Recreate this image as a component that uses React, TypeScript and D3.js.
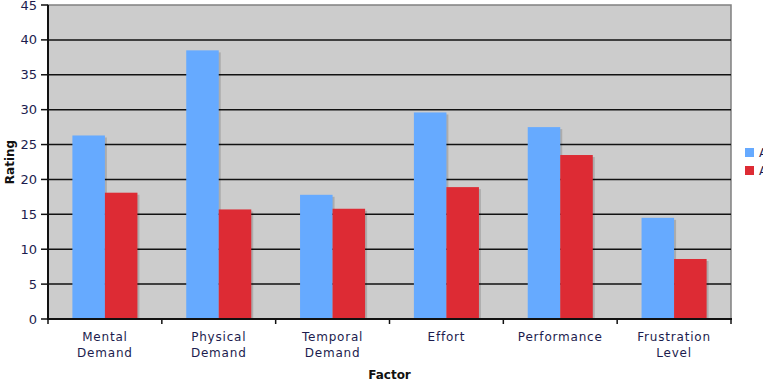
import React from "react";
import * as d3 from "d3";

const factors = [
  ["Mental", "Demand"],
  ["Physical", "Demand"],
  ["Temporal", "Demand"],
  ["Effort"],
  ["Performance"],
  ["Frustration", "Level"],
];
const seriesNames = ["A-Baseline", "A-Assisted"];
const seriesColors = ["#66aaff", "#dd2b34"];
const seriesA = [26.3, 38.5, 17.8, 29.6, 27.5, 14.5];
const seriesB = [18.1, 15.7, 15.8, 18.9, 23.5, 8.6];
const yTicks = [0, 5, 10, 15, 20, 25, 30, 35, 40, 45];

const W = 763;
const H = 381;
const margin = { top: 5, right: 32, bottom: 62, left: 48 };
const textColor = "#1c1c4e";
const font = "DejaVu Sans, Verdana, sans-serif";

const App = () => {
  const innerW = W - margin.left - margin.right;
  const innerH = H - margin.top - margin.bottom;
  const keys = factors.map((f) => f.join(" "));

  const x0 = d3.scaleBand().domain(keys).range([0, innerW]).padding(0);
  const x1 = d3
    .scaleBand()
    .domain(seriesNames)
    .range([0, x0.bandwidth()])
    .paddingInner(0)
    .paddingOuter(0.75);
  const y = d3.scaleLinear().domain([0, 45]).range([innerH, 0]);

  const data = keys.map((k, i) => ({ key: k, values: [seriesA[i], seriesB[i]] }));

  return (
    <svg
      width={W}
      height={H}
      style={{ position: "absolute", left: 0, top: 0, background: "#fff" }}
    >
      <defs>
        <filter id="soft" x="-10%" y="-10%" width="130%" height="120%">
          <feGaussianBlur stdDeviation="0.4" />
        </filter>
      </defs>
      <g transform={`translate(${margin.left},${margin.top})`}>
        <rect width={innerW} height={innerH} fill="#cccccc" stroke="#808080" strokeWidth={1.5} />
        {yTicks.map((t) => (
          <g key={t}>
            {t > 0 && t < 45 && (
              <line x1={0} x2={innerW} y1={y(t)} y2={y(t)} stroke="#111" strokeWidth={1.5} />
            )}
            <line x1={-7} x2={0} y1={y(t)} y2={y(t)} stroke="#111" strokeWidth={1.5} />
            <text
              x={-11}
              y={y(t)}
              dy="0.35em"
              textAnchor="end"
              fontFamily={font}
              fontSize={13}
              fill={textColor}
            >
              {t}
            </text>
          </g>
        ))}
        {data.map((d) => (
          <g key={d.key} transform={`translate(${x0(d.key)},0)`}>
            {d.values.map((v, j) => (
              <g key={j}>
                <rect
                  x={(x1(seriesNames[j]) ?? 0) + 2}
                  y={y(v) + 2}
                  width={x1.bandwidth()}
                  height={innerH - y(v) - 2}
                  fill="#000"
                  opacity={0.15}
                  filter="url(#soft)"
                />
                <rect
                  x={x1(seriesNames[j])}
                  y={y(v)}
                  width={x1.bandwidth()}
                  height={innerH - y(v)}
                  fill={seriesColors[j]}
                />
              </g>
            ))}
          </g>
        ))}
        <line x1={0} x2={0} y1={0} y2={innerH + 1} stroke="#111" strokeWidth={2} />
        <line x1={-1} x2={innerW + 1} y1={innerH} y2={innerH} stroke="#111" strokeWidth={2} />
        {d3.range(factors.length + 1).map((i) => (
          <line
            key={i}
            x1={i * x0.step()}
            x2={i * x0.step()}
            y1={innerH}
            y2={innerH + 5}
            stroke="#111"
            strokeWidth={1.5}
          />
        ))}
        {factors.map((f, i) => (
          <text
            key={keys[i]}
            x={(x0(keys[i]) ?? 0) + x0.bandwidth() / 2}
            y={innerH + 22}
            textAnchor="middle"
            fontFamily={font}
            fontSize={12}
            fill={textColor}
            letterSpacing={0.8}
          >
            {f.map((line, k) => (
              <tspan key={k} x={(x0(keys[i]) ?? 0) + x0.bandwidth() / 2} dy={k === 0 ? 0 : 16}>
                {line}
              </tspan>
            ))}
          </text>
        ))}
        <text
          x={innerW / 2}
          y={innerH + 60}
          textAnchor="middle"
          fontFamily={font}
          fontSize={12}
          fontWeight="bold"
          fill="#111"
        >
          Factor
        </text>
        <text
          transform={`translate(${-34},${innerH / 2}) rotate(-90)`}
          textAnchor="middle"
          fontFamily={font}
          fontSize={12}
          fontWeight="bold"
          fill="#111"
        >
          Rating
        </text>
      </g>
      {seriesNames.map((s, i) => (
        <g key={s} transform={`translate(745,${148 + i * 18})`}>
          <rect width={9} height={9} fill={seriesColors[i]} />
          <text x={14} y={9} fontFamily={font} fontSize={12} fill={textColor}>
            {s}
          </text>
        </g>
      ))}
    </svg>
  );
};

export default App;
